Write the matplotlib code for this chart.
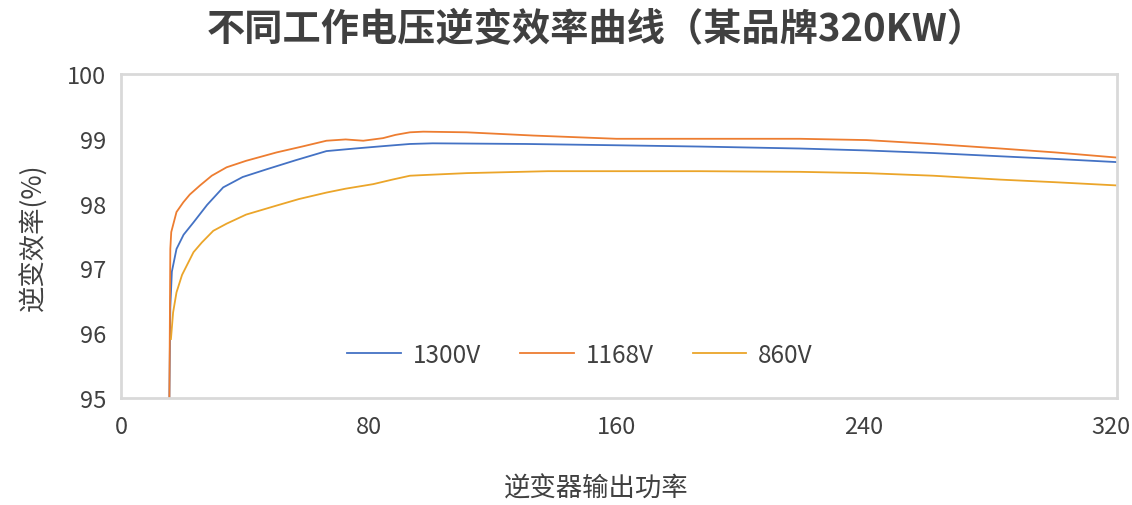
import matplotlib
matplotlib.use("Agg")
import matplotlib.pyplot as plt

plt.rcParams['font.family'] = ['Noto Sans CJK SC', 'DejaVu Sans']

# 逆变器输出功率 (kW) 与 效率 (%)
x_1300 = [15.5, 15.8, 16.3, 17.8, 20.1, 23.3, 27.7, 32.9, 39.2, 47.0, 56.4, 66.3, 75.5,
          85.5, 93.3, 100.6, 130.8, 160.1, 187.1, 219.4, 241.0, 262.6, 284.2, 301.9, 322.0]
y_1300 = [95.00, 96.40, 96.95, 97.30, 97.52, 97.71, 97.98, 98.25, 98.41, 98.53, 98.67, 98.81, 98.85,
          98.89, 98.92, 98.93, 98.92, 98.90, 98.88, 98.85, 98.82, 98.78, 98.73, 98.69, 98.64]

x_1168 = [15.5, 15.8, 16.1, 17.8, 20.0, 22.1, 25.4, 29.2, 34.0, 40.3, 50.2, 58.4, 66.3, 72.5,
          78.2, 84.6, 88.6, 93.3, 97.6, 111.6, 133.2, 160.1, 187.1, 219.4, 241.0, 262.6,
          284.2, 301.9, 322.0]
y_1168 = [95.00, 97.30, 97.56, 97.87, 98.02, 98.14, 98.28, 98.43, 98.56, 98.66, 98.79, 98.88, 98.97, 98.99,
          98.97, 99.01, 99.06, 99.10, 99.11, 99.10, 99.05, 99.00, 99.00, 99.00, 98.98, 98.92,
          98.85, 98.79, 98.71]

x_860 = [16.0, 16.7, 17.8, 19.6, 23.3, 26.0, 29.7, 34.0, 40.3, 50.2, 57.4, 66.3, 72.5, 81.4,
         87.6, 93.3, 97.6, 111.6, 137.9, 160.1, 187.1, 219.4, 241.0, 262.6, 284.2, 301.9, 322.0]
y_860 = [95.91, 96.32, 96.63, 96.90, 97.25, 97.40, 97.58, 97.69, 97.83, 97.97, 98.07, 98.17, 98.23, 98.30,
         98.37, 98.43, 98.44, 98.47, 98.50, 98.50, 98.50, 98.49, 98.47, 98.43, 98.37, 98.33, 98.28]

series_names = ['1300V', '1168V', '860V']
series_colors = ['#4472C4', '#ED7D31', '#EBA52A']

x_ticks = [0, 80, 160, 240, 320]
y_ticks = [95, 96, 97, 98, 99, 100]

txt = '#404040'

fig = plt.figure(figsize=(11.32, 5.06), dpi=100)
ax = fig.add_axes([0.1073, 0.2115, 0.8795, 0.6403])

for xs, ys, name, c in zip([x_1300, x_1168, x_860], [y_1300, y_1168, y_860], series_names, series_colors):
    ax.plot(xs, ys, color=c, lw=1.3, label=name)

ax.set_xlim(0, 322)
ax.set_ylim(95, 100)
ax.set_xticks(x_ticks)
ax.set_yticks(y_ticks)
ax.tick_params(length=0, labelsize=17, colors=txt)
ax.tick_params(axis='y', pad=11)
ax.tick_params(axis='x', pad=12)
for s in ax.spines.values():
    s.set_color('#D9D9D9')
    s.set_linewidth(2.0)

ax.set_xlabel('逆变器输出功率', fontsize=19, color=txt, labelpad=24)
ax.xaxis.set_label_coords(0.4766, -0.235)
ax.set_ylabel('逆变效率(%)', fontsize=19, color=txt, labelpad=14)

fig.text(0.527, 0.942, '不同工作电压逆变效率曲线（某品牌320KW）', ha='center', va='center',
         fontsize=27.5, fontweight='bold', color=txt)

leg = ax.legend(loc='center', bbox_to_anchor=(0.4606, 0.133), ncol=3, frameon=False,
                fontsize=17.5, handlelength=2.2, handletextpad=0.5, columnspacing=1.6)
for t in leg.get_texts():
    t.set_color(txt)

fig.savefig('out.png', dpi=100)
